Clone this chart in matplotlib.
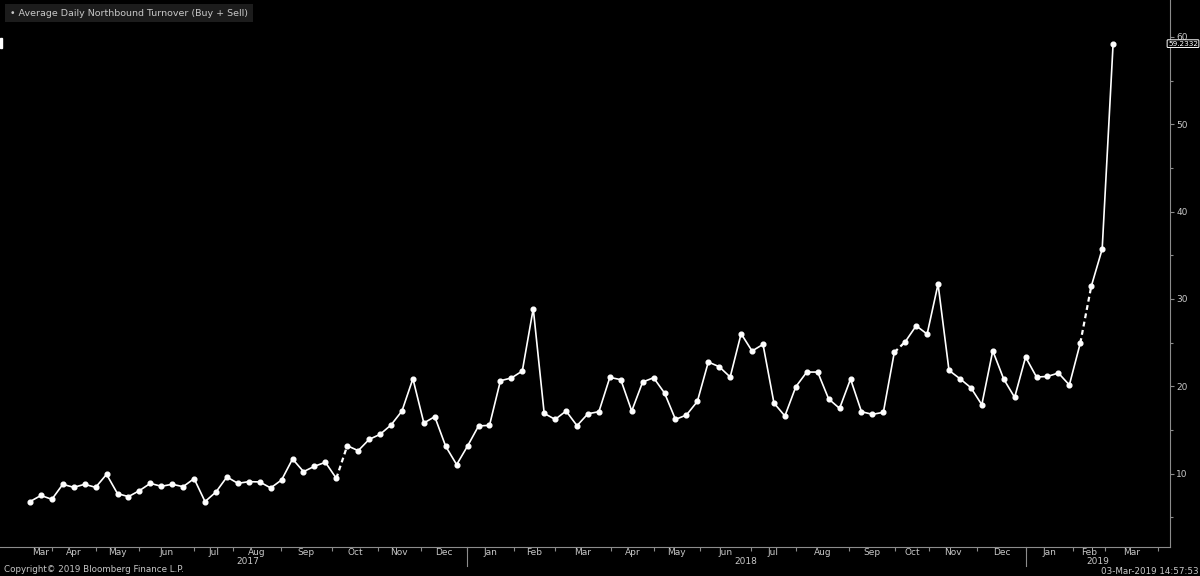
import numpy as np
import matplotlib
matplotlib.use('Agg')
import matplotlib.pyplot as plt
from matplotlib.patches import Rectangle
from matplotlib.transforms import blended_transform_factory

# weekly average northbound turnover, one value per week (index on x)
turnover = [6.8, 7.5, 7.06, 8.78, 8.43, 8.78, 8.43, 9.92, 7.71, 7.37,
            8.05, 8.89, 8.55, 8.78, 8.51, 9.43, 6.8, 7.9, 9.62, 8.89,
            9.08, 9.05, 8.36, 9.28, 11.68, 10.23, 10.84, 11.3, 9.46, 13.2,
            12.63, 13.92, 14.5, 15.57, 17.17, 20.87, 15.8, 16.52, 13.12, 11.03,
            13.17, 15.46, 15.53, 20.64, 20.95, 21.75, 28.9, 16.9, 16.21, 17.17,
            15.49, 16.86, 17.09, 21.02, 20.76, 17.17, 20.49, 20.98, 19.23, 16.21,
            16.71, 18.27, 22.78, 22.24, 21.06, 26.02, 24.04, 24.8, 18.09, 16.6,
            19.95, 21.63, 21.63, 18.55, 17.47, 20.83, 17.09, 16.79, 17.02, 23.88,
            25.1, 26.93, 25.98, 31.7, 21.82, 20.87, 19.84, 17.89, 24.07, 20.83,
            18.73, 23.35, 21.06, 21.13, 21.52, 20.15, 24.95, 31.43, 35.7, 59.2332]
# holiday gaps (dashed joins) after these weeks
gap_after = [28, 79, 96]

months = ['Mar', 'Apr', 'May', 'Jun', 'Jul', 'Aug', 'Sep', 'Oct', 'Nov', 'Dec',
          'Jan', 'Feb', 'Mar', 'Apr', 'May', 'Jun', 'Jul', 'Aug', 'Sep', 'Oct',
          'Nov', 'Dec', 'Jan', 'Feb', 'Mar']
# month starts in week-index units (first one = start of data)
month_edges = [0, 2.0, 6.0, 10.0, 15.0, 18.6, 22.9, 27.6, 31.8, 35.7, 39.9,
               44.2, 48.0, 53.1, 57.0, 61.2, 65.9, 70.0, 74.9, 79.1, 82.2,
               86.6, 91.0, 95.3, 98.3, 103.1]
years = ['2017', '2018', '2019']
year_edges = [0, 39.9, 91.0, 104.2]

fg = '#c8c8c8'
axc = '#8c8c8c'
plt.rcParams['font.family'] = ['DejaVu Sans']

fig = plt.figure(figsize=(12, 5.76), dpi=100, facecolor='black')
ax = fig.add_axes([0, 29 / 576, 1170 / 1200, 547 / 576], facecolor='black')

x = np.arange(len(turnover))
y = np.array(turnover)

# solid runs, dashed across the gaps
starts = [0] + [g + 1 for g in gap_after]
ends = [g + 1 for g in gap_after] + [len(y)]
for s, e in zip(starts, ends):
    ax.plot(x[s:e], y[s:e], color='white', lw=1.2, solid_capstyle='round')
for g in gap_after:
    ax.plot(x[g:g + 2], y[g:g + 2], color='white', lw=1.6, ls=(0, (2.2, 1.6)))
ax.plot(x, y, 'o', color='white', ms=3.4, mec='white')

ax.set_xlim(-2.74, 104.2)
ax.set_ylim(1.6, 64.23)

for s in ['left', 'top']:
    ax.spines[s].set_visible(False)
for s in ['right', 'bottom']:
    ax.spines[s].set_color(axc)
    ax.spines[s].set_linewidth(0.8)

# y axis on the right
ax.yaxis.tick_right()
ax.set_yticks([10, 20, 30, 40, 50, 60])
ax.set_yticks(np.arange(5, 60, 10), minor=True)
ax.tick_params(axis='y', which='major', colors=axc, labelcolor=fg, labelsize=6.5,
               length=3, width=0.8, pad=1.5, direction='out')
ax.tick_params(axis='y', which='minor', colors=axc, length=2, width=0.8, direction='out')

# x ticks at month starts, labels centered in months
ax.set_xticks(month_edges[1:])
ax.set_xticklabels([])
ax.tick_params(axis='x', which='major', colors=axc, length=3, width=0.8, direction='out')
mids = [(a + b) / 2 for a, b in zip(month_edges[:-1], month_edges[1:])]
ax.set_xticks(mids, minor=True)
ax.set_xticklabels(months, minor=True)
ax.tick_params(axis='x', which='minor', length=0, labelcolor=fg, labelsize=6.5, pad=0.5)

trans = ax.get_xaxis_transform()
for i, yr in enumerate(years):
    ax.text((year_edges[i] + year_edges[i + 1]) / 2, -0.019, yr, transform=trans,
            ha='center', va='top', color=fg, fontsize=6.5)
for xe in year_edges[1:3]:
    ax.plot([xe, xe], [0, -0.035], transform=trans, color=axc, lw=0.8, clip_on=False)

# last value tag, kept inside the figure's right edge
tag_tr = blended_transform_factory(fig.transFigure, ax.transData)
fig.text(1198 / 1200, turnover[-1], f'{turnover[-1]:.4f}', transform=tag_tr,
         ha='right', va='center', color='white', fontsize=5.2,
         family=['Liberation Sans Narrow', 'DejaVu Sans'],
         bbox=dict(boxstyle='round,pad=0.12', fc='black', ec='white', lw=0.7))

# legend box
fig.text(10 / 1200, 1 - 13 / 576, '\u2022 Average Daily Northbound Turnover (Buy + Sell)',
         color=fg, fontsize=6.8, va='center', ha='left',
         bbox=dict(boxstyle='square,pad=0.5', fc='#1c1c1c', ec='none'))
fig.patches.append(Rectangle((0, 1 - 48 / 576), 2 / 1200, 10 / 576,
                             transform=fig.transFigure, color='white'))

fig.text(4 / 1200, 7 / 576, 'Copyright\u00a9 2019 Bloomberg Finance L.P.', color=fg,
         fontsize=6.3, va='center', ha='left')
fig.text(1199 / 1200, 5 / 576, '03-Mar-2019 14:57:53', color=fg,
         fontsize=6.3, va='center', ha='right')

fig.savefig('out.png', dpi=100, facecolor='black')
